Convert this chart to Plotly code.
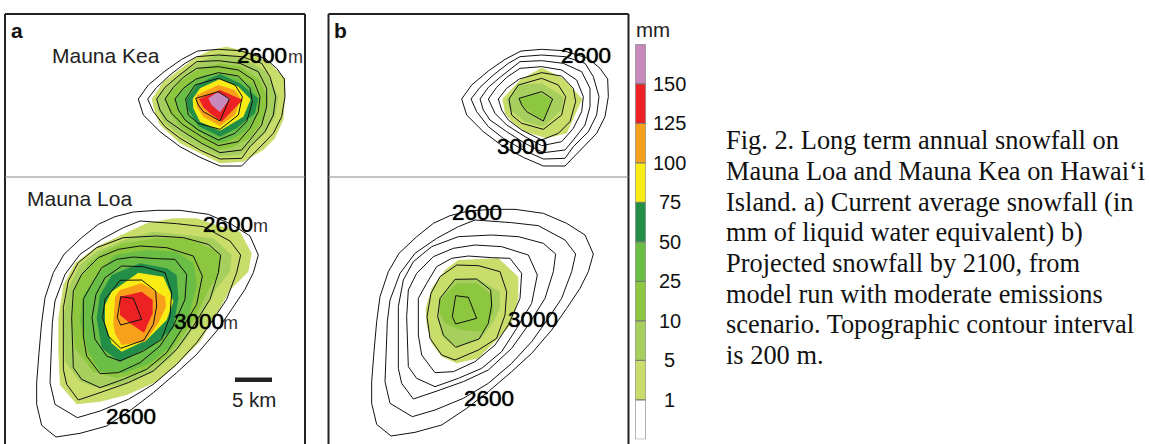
import plotly.graph_objects as go

# Colour classes (mm of liquid water equivalent), bottom to top
LEVEL_LABELS = ["1", "5", "10", "25", "50", "75", "100", "125", "150"]
LEVEL_COLORS = ["#FFFFFF", "#C9DD6B", "#A6CF5E", "#8DC63F", "#6ABD45", "#238E48",
                "#F8EC14", "#F9A01B", "#ED2024", "#C88ABD"]
LEVEL_INDEX = list(range(10))
LEVEL_SPAN = [1] * 10

# Topographic contours, Mauna Kea
KEA_TOPO_1 = [(410,297),(440,255),(490,213),(540,178),(588,153),(650,148),(715,152),(790,175),(825,205),(848,237),(850,290),(840,350),(815,400),(770,445),(720,498),(655,498),(595,472),(535,440),(475,395),(425,345)]
KEA_TOPO_2 = [(438,297),(465,262),(505,225),(550,190),(585,170),(650,165),(720,170),(780,190),(805,230),(822,290),(815,345),(790,395),(745,440),(720,475),(655,477),(595,450),(535,415),(490,380),(455,335)]
KEA_TOPO_3 = [(465,297),(490,262),(525,232),(565,200),(585,185),(650,182),(715,190),(770,215),(795,265),(795,320),(780,375),(745,420),(720,450),(655,458),(600,430),(545,395),(495,360),(475,330)]
KEA_TOPO_4 = [(490,297),(515,262),(545,232),(585,205),(650,200),(710,210),(755,240),(775,290),(770,335),(745,385),(710,425),(650,437),(600,410),(545,375),(510,340)]
KEA_TOPO_5 = [(520,297),(545,265),(583,237),(650,218),(710,228),(745,265),(752,305),(735,365),(700,400),(650,420),(590,390),(550,360),(530,330)]
KEA_TOPO_6 = [(552,297),(580,255),(650,235),(700,255),(722,290),(710,345),(655,388),(590,370),(560,345)]
KEA_TOPO_7 = [(582,295),(650,275),(683,297),(655,363),(605,335),(590,315)]
KEA_TOPO = [KEA_TOPO_1, KEA_TOPO_2, KEA_TOPO_3, KEA_TOPO_4, KEA_TOPO_5, KEA_TOPO_6, KEA_TOPO_7]

# Topographic contours, Mauna Loa
LOA_TOPO_1 = [(805,237),(780,180),(725,145),(655,115),(570,103),(500,103),(430,108),(375,122),(325,145),(275,185),(222,235),(190,290),(165,365),(155,440),(147,530),(140,620),(140,685),(155,748),(198,783),(270,772),(350,750),(425,700),(490,650),(560,590),(620,535),(680,465),(725,400),(765,340),(790,290)]
LOA_TOPO_2 = [(752,237),(720,195),(640,152),(560,143),(450,135),(400,155),(335,190),(270,235),(225,295),(195,375),(187,440),(182,540),(180,620),(195,685),(262,725),(330,705),(415,670),(490,625),(560,565),(620,500),(670,430),(710,370),(740,290)]
LOA_TOPO_3 = [(692,237),(655,205),(580,185),(500,180),(400,185),(320,215),(265,260),(235,315),(220,395),(220,470),(220,580),(230,625),(265,672),(330,650),(415,620),(490,585),(560,520),(610,450),(660,370),(685,290)]
LOA_TOPO_4 = [(637,300),(610,240),(530,215),(450,210),(385,220),(325,245),(275,295),(250,345),(245,425),(248,510),(250,575),(275,610),(330,635),(400,610),(470,580),(530,530),(575,460),(620,385)]
LOA_TOPO_5 = [(590,295),(555,250),(500,248),(430,243),(380,250),(335,275),(305,325),(280,370),(280,480),(290,540),(330,593),(385,590),(450,560),(510,510),(550,450),(585,370)]
LOA_TOPO_6 = [(545,350),(525,290),(460,272),(395,270),(345,305),(318,355),(306,425),(315,490),(350,540),(390,555),(460,525),(515,490),(540,420)]
LOA_TOPO_7 = [(497,345),(455,312),(390,313),(345,370),(338,425),(355,480),(392,517),(462,492),(490,445),(500,390)]
LOA_TOPO_8 = [(392,362),(430,367),(455,430),(392,447),(382,425),(387,385)]
LOA_TOPO = [LOA_TOPO_1, LOA_TOPO_2, LOA_TOPO_3, LOA_TOPO_4, LOA_TOPO_5, LOA_TOPO_6, LOA_TOPO_7, LOA_TOPO_8]

# Current snowfall classes, Mauna Kea (class index into LEVEL_COLORS, outline)
KEA_NOW_1 = [(455,297),(490,245),(530,215),(590,170),(640,148),(680,140),(745,155),(810,190),(855,235),(855,290),(850,360),(825,415),(790,450),(730,485),(660,490),(600,460),(540,430),(480,375),(465,340)]
KEA_NOW_5 = [(470,295),(520,240),(590,190),(660,160),(730,175),(800,215),(835,290),(825,350),(790,405),(720,465),(660,470),(590,440),(530,400),(490,365),(475,330)]
KEA_NOW_10 = [(495,295),(540,245),(600,205),(660,190),(720,200),(780,240),(805,300),(790,360),(750,415),(690,445),(650,450),(590,420),(540,380),(510,340)]
KEA_NOW_25 = [(525,297),(565,250),(610,225),(660,220),(710,230),(760,260),(780,300),(770,345),(735,395),(680,425),(650,430),(595,395),(555,360),(535,330)]
KEA_NOW_50 = [(560,297),(590,255),(630,235),(660,222),(720,250),(775,295),(765,340),(710,385),(660,410),(595,378),(565,330)]
KEA_NOW_75 = [(578,297),(600,265),(660,237),(715,260),(752,298),(730,350),(660,392),(600,365),(580,325)]
KEA_NOW_100 = [(590,285),(655,255),(705,270),(722,295),(705,345),(660,378),(610,350),(590,320)]
KEA_NOW_125 = [(597,297),(660,270),(728,300),(690,340),(665,365),(630,340),(610,322)]
KEA_NOW_150 = [(625,295),(652,277),(690,295),(660,337),(635,315)]
KEA_NOW = [KEA_NOW_1, KEA_NOW_5, KEA_NOW_10, KEA_NOW_25, KEA_NOW_50, KEA_NOW_75, KEA_NOW_100, KEA_NOW_125, KEA_NOW_150]

# Current snowfall classes, Mauna Loa
LOA_NOW_1 = [(385,170),(440,145),(520,130),(590,130),(650,150),(720,170),(755,235),(745,290),(690,345),(660,400),(600,500),(530,570),(470,620),(380,660),(300,680),(230,688),(180,630),(175,530),(175,430),(190,330),(225,265),(290,215)]
LOA_NOW_5 = [(385,190),(460,170),(560,180),(640,190),(695,240),(690,290),(650,340),(610,410),(560,490),(510,550),(460,590),(380,625),(300,640),(240,620),(195,560),(190,430),(205,340),(240,270),(290,230)]
LOA_NOW_10 = [(370,205),(470,190),(570,190),(660,235),(660,290),(625,345),(590,420),(545,490),(500,545),(430,590),(350,610),(280,590),(225,520),(215,440),(225,340),(265,265),(310,230)]
LOA_NOW_25 = [(300,290),(345,240),(440,225),(530,230),(580,265),(590,330),(565,430),(520,510),(450,565),(370,595),(300,590),(265,530),(240,440),(250,360)]
LOA_NOW_50 = [(335,300),(420,265),(500,280),(530,300),(535,370),(520,460),(460,510),(360,560),(305,520),(290,430),(300,360)]
LOA_NOW_75 = [(315,390),(335,350),(415,293),(490,305),(510,350),(520,380),(500,435),(440,495),(365,530),(335,505),(315,445)]
LOA_NOW_100 = [(345,365),(360,345),(425,325),(495,365),(498,395),(475,445),(435,500),(365,510),(345,475),(340,445)]
LOA_NOW_125 = [(360,365),(425,350),(458,375),(458,415),(432,473),(390,445),(360,420)]
LOA_NOW = [LOA_NOW_1, LOA_NOW_5, LOA_NOW_10, LOA_NOW_25, LOA_NOW_50, LOA_NOW_75, LOA_NOW_100, LOA_NOW_125]

# Projected 2100 snowfall classes
KEA_2100_1 = [(532,297),(585,240),(650,203),(715,235),(772,297),(750,345),(725,400),(665,415),(600,395),(560,365),(540,340)]
KEA_2100_5 = [(580,255),(650,250),(715,290),(710,330),(655,380),(600,365),(555,330),(545,300)]
KEA_2100_10 = [(580,295),(640,280),(680,297),(655,362),(600,325)]
KEA_2100 = [KEA_2100_1, KEA_2100_5, KEA_2100_10]
LOA_2100_1 = [(400,255),(520,250),(580,305),(580,370),(560,445),(520,490),(460,550),(395,565),(350,545),(320,505),(305,450),(302,400),(320,340),(360,285)]
LOA_2100_5 = [(390,313),(455,310),(525,350),(525,400),(505,440),(470,490),(395,517),(355,490),(340,430),(345,370)]
LOA_2100_10 = [(345,375),(395,325),(455,325),(500,360),(505,410),(475,470),(410,465),(360,445),(345,415)]
LOA_2100 = [LOA_2100_1, LOA_2100_5, LOA_2100_10]

CAPTION = [
    "Fig. 2. Long term annual snowfall on",
    "Mauna Loa and Mauna Kea on Hawai\u2018i",
    "Island. a) Current average snowfall (in",
    "mm of liquid water equivalent) b)",
    "Projected snowfall by 2100, from",
    "model run with moderate emissions",
    "scenario. Topographic contour interval",
    "is 200 m.",
]
CAPTION_Y = [140, 171, 201.5, 232, 262.5, 293.5, 323.5, 354.5]

W, H = 1151, 444
SANS = "Liberation Sans, Arial, sans-serif"
SERIF = "Liberation Serif, Times New Roman, serif"
fig = go.Figure()


def poly_fill(points, color, xa, ya):
    xs = [p[0] for p in points] + [points[0][0]]
    ys = [p[1] for p in points] + [points[0][1]]
    fig.add_trace(go.Scatter(x=xs, y=ys, mode="lines", fill="toself", fillcolor=color,
                             line=dict(width=0, color=color), hoverinfo="skip",
                             showlegend=False, xaxis=xa, yaxis=ya))


def poly_line(points, xa, ya, dx=0, dy=0):
    xs = [p[0] + dx for p in points] + [points[0][0] + dx]
    ys = [p[1] + dy for p in points] + [points[0][1] + dy]
    fig.add_trace(go.Scatter(x=xs, y=ys, mode="lines", line=dict(width=1, color="#111111"),
                             hoverinfo="skip", showlegend=False, xaxis=xa, yaxis=ya))


# Panel a
for i, pts in enumerate(KEA_NOW):
    poly_fill(pts, LEVEL_COLORS[i + 1], "x2", "y2")
for i, pts in enumerate(LOA_NOW):
    poly_fill(pts, LEVEL_COLORS[i + 1], "x2", "y3")
for pts in KEA_TOPO:
    poly_line(pts, "x2", "y2", dx=5)
for pts in LOA_TOPO:
    poly_line(pts, "x2", "y3", dx=-30, dy=3)

# Panel b
for i, pts in enumerate(KEA_2100):
    poly_fill(pts, LEVEL_COLORS[i + 1], "x3", "y2")
for i, pts in enumerate(LOA_2100):
    poly_fill(pts, LEVEL_COLORS[i + 1], "x3", "y4")
for pts in KEA_TOPO:
    poly_line(pts, "x3", "y2")
for pts in LOA_TOPO:
    poly_line(pts, "x3", "y4")

# Colour scale
fig.add_trace(go.Bar(x=[0] * 10, y=LEVEL_SPAN, base=LEVEL_INDEX, width=1,
                     marker=dict(color=LEVEL_COLORS, line=dict(color="#777777", width=1)),
                     hoverinfo="skip", showlegend=False, xaxis="x5", yaxis="y5"))

hidden = dict(visible=False, fixedrange=True)
fig.update_layout(
    width=W, height=H, margin=dict(l=0, r=0, t=0, b=0),
    paper_bgcolor="white", plot_bgcolor="rgba(0,0,0,0)", showlegend=False,
    xaxis=dict(range=[0, W], domain=[0, 1], **hidden),
    yaxis=dict(range=[H, 0], domain=[0, 1], **hidden),
    xaxis2=dict(range=[0, W * 3], overlaying="x", **hidden),
    xaxis3=dict(range=[-975, W * 3 - 975], overlaying="x", **hidden),
    yaxis2=dict(range=[H * 3, 0], overlaying="y", **hidden),
    yaxis3=dict(range=[H * 3 - 525, -525], overlaying="y", **hidden),
    yaxis4=dict(range=[H * 3 - 525, -525], overlaying="y", **hidden),
    xaxis5=dict(range=[-0.5, 0.5], domain=[635.3 / W, 645.7 / W], anchor="y5", **hidden),
    yaxis5=dict(range=[0, 10], domain=[1 - 439.3 / H, 1 - 44.3 / H], anchor="x5", **hidden),
)

# Panel frames, rules and scale bar
dark = "#222222"
for x0 in (5, 328.5):
    x1 = x0 + 300
    fig.add_shape(type="line", x0=x0, x1=x0, y0=14, y1=H, xref="x", yref="y", line=dict(color=dark, width=2))
    fig.add_shape(type="line", x0=x1, x1=x1, y0=14, y1=H, xref="x", yref="y", line=dict(color=dark, width=2))
    fig.add_shape(type="line", x0=x0, x1=x1, y0=14, y1=14, xref="x", yref="y", line=dict(color=dark, width=2))
    fig.add_shape(type="line", x0=x0, x1=x1, y0=177, y1=177, xref="x", yref="y", line=dict(color="#888888", width=1))
fig.add_shape(type="rect", x0=235, x1=272, y0=377.5, y1=382, xref="x", yref="y", fillcolor="#222222", line=dict(width=0))


def label(text, x, y, size, anchor="left", family=SANS, bold=False, color="#111111", yref="y", shadow=None):
    font = dict(size=size, family=family, color=color)
    if shadow:
        font["shadow"] = shadow
    fig.add_annotation(text=f"<b>{text}</b>" if bold else text, x=x, y=y, xref="x", yref=yref,
                       xanchor=anchor, yanchor="middle", showarrow=False, borderpad=0, borderwidth=0,
                       font=font)


label("a", 11, 30, 21, bold=True)
label("b", 334, 30, 21, bold=True)
label("Mauna Kea", 52, 55, 21, color="#222222")
label("Mauna Loa", 26.5, 198, 21, color="#222222")
label("5 km", 232, 399, 20.5, color="#222222")
label("mm", 636, 29, 20.5, color="#222222")

CONTOUR_LABELS = [("2600", 237, 55), ("2600", 203, 224), ("3000", 174, 321), ("2600", 106, 416),
                  ("2600", 561, 55), ("3000", 497, 146), ("2600", 452, 212), ("3000", 508, 319), ("2600", 464, 398)]
for t, x, y in CONTOUR_LABELS:
    label(t, x, y, 22.5, color="#000000", shadow="0 0 1px #000000")
for x, y in [(288, 57), (253, 226), (223, 323)]:
    label("m", x, y, 18, color="#333333")

for i, t in enumerate(LEVEL_LABELS):
    label(t, 669.5, i + 1, 20, anchor="center", color="#111111", yref="y5")

for t, y in zip(CAPTION, CAPTION_Y):
    label(t, 726, y, 26.4, family=SERIF, color="#111111")

fig.write_html("out.html", config={"displayModeBar": False},
               post_script="document.body.style.margin='0';document.documentElement.style.overflow='hidden';")
